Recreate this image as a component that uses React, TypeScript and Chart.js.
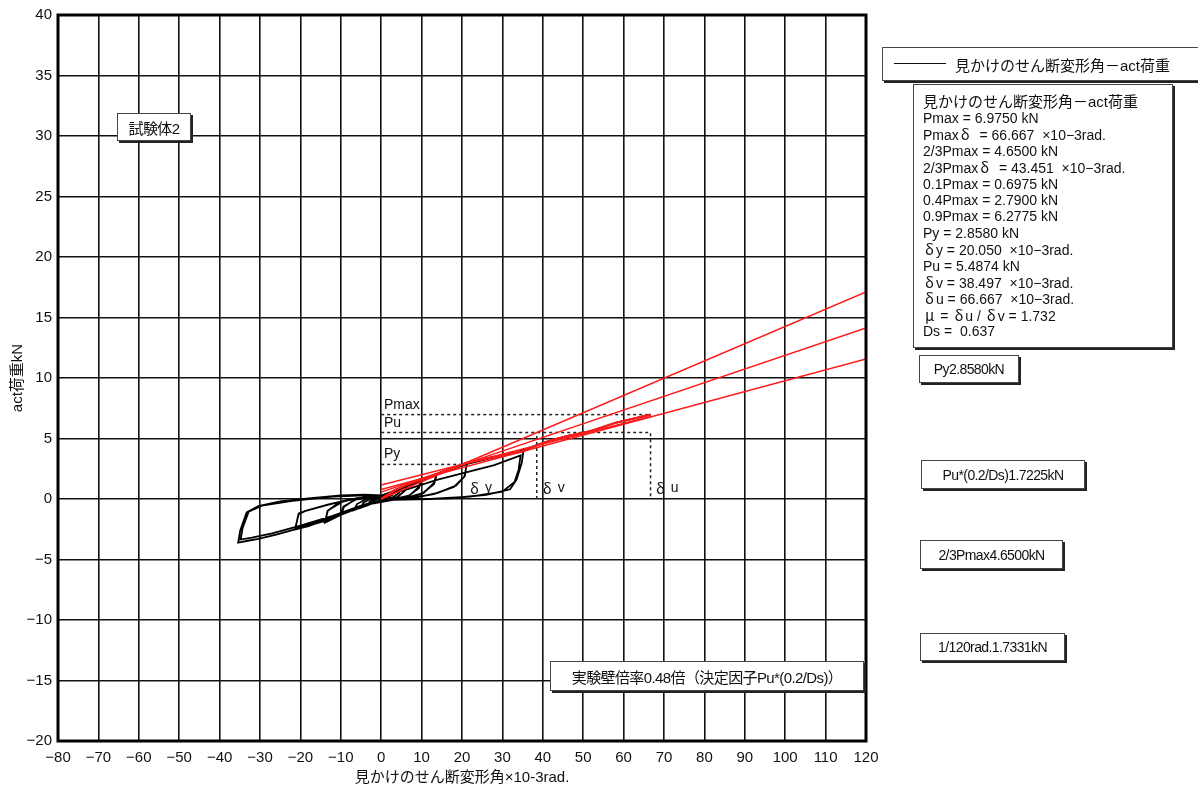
import React, { useEffect, useRef } from "react";
import { Chart, registerables } from "chart.js";

Chart.register(...registerables);

const FONT = '"Liberation Sans", "Noto Sans CJK JP", sans-serif';
const CJK = '"Noto Sans CJK JP", sans-serif';

// axis ranges / ticks
const xRange = [-80, 120];
const yRange = [-20, 40];
const xStep = 10;
const yStep = 5;

// hysteresis cycles (x: 見かけのせん断変形角 ×10-3rad, y: act荷重 kN)
const cycle1 = [[0, 0], [1.0, 0.28], [2.2, 0.5], [1.8, 0.22], [0.9, 0.03], [0, -0.06], [-1.1, -0.2], [-2.2, -0.35], [-1.8, -0.12], [-0.8, 0.04], [0, 0.08]];
const cycle2 = [[1.2, 0.35], [2.3, 0.55], [3.3, 0.72], [2.8, 0.36], [1.6, 0.06], [0, -0.08], [-1.6, -0.27], [-3.3, -0.5], [-2.8, -0.2], [-1.4, 0.04], [0, 0.1]];
const cycle3 = [[1.5, 0.4], [3.4, 0.74], [5.0, 0.97], [4.4, 0.5], [2.8, 0.12], [0.8, -0.04], [-1.5, -0.26], [-3.4, -0.52], [-5.0, -0.72], [-4.4, -0.3], [-2.6, 0.02], [0, 0.12]];
const cycle4 = [[2.0, 0.46], [5.0, 0.95], [6.7, 1.22], [6.0, 0.72], [4.0, 0.16], [1.5, -0.02], [-2.0, -0.3], [-5.0, -0.7], [-6.7, -0.92], [-6.0, -0.42], [-3.5, 0.04], [0, 0.15]];
const cycle5 = [[2.0, 0.48], [6.7, 1.18], [10.0, 1.62], [9.2, 0.95], [7.0, 0.3], [3.5, 0.02], [0, -0.1], [-3.0, -0.38], [-6.7, -0.88], [-10.0, -1.32], [-9.2, -0.65], [-6.5, -0.05], [-2.5, 0.12], [0, 0.15]];
const cycle6 = [[3.0, 0.6], [7.0, 1.15], [10.0, 1.55], [9.3, 0.9], [6.8, 0.25], [3.0, 0.0], [0, -0.1], [-4.0, -0.48], [-7.5, -0.92], [-10.0, -1.25], [-9.3, -0.6], [-6.0, 0.0], [-2.0, 0.15], [0, 0.15]];
const cycle7 = [[3.0, 0.62], [8.0, 1.35], [10.5, 1.68], [13.7, 2.05], [13.0, 1.3], [10.5, 0.5], [6.0, 0.08], [2.0, -0.05], [-2.0, -0.25], [-6.0, -0.75], [-10.3, -1.35], [-13.9, -1.95], [-13.3, -1.0], [-10.5, -0.3], [-6.0, 0.08], [-1.0, 0.2], [0, 0.2]];
const cycle8 = [[4.0, 0.72], [9.0, 1.42], [13.7, 1.98], [13.1, 1.25], [10.0, 0.4], [5.0, 0.02], [0, -0.12], [-5.0, -0.62], [-10.0, -1.25], [-13.9, -1.85], [-13.2, -0.95], [-9.5, -0.2], [-4.0, 0.15], [0, 0.2]];
const cycle9 = [[4.0, 0.75], [10.0, 1.62], [13.7, 2.05], [17.0, 2.5], [21.2, 3.0], [20.7, 1.9], [18.5, 1.1], [14.0, 0.5], [8.0, 0.08], [3.0, -0.05], [-3.0, -0.35], [-9.0, -1.05], [-14.0, -1.75], [-18.0, -2.25], [-21.3, -2.52], [-20.5, -1.26], [-18.9, -1.0], [-14.0, -0.55], [-8.0, -0.05], [-3.0, 0.2], [0, 0.22]];
const cycle10 = [[5.0, 0.85], [12.0, 1.8], [17.0, 2.4], [21.2, 2.9], [20.6, 1.85], [18.0, 1.0], [13.0, 0.4], [7.0, 0.05], [2.0, -0.05], [-4.0, -0.45], [-10.0, -1.15], [-16.0, -1.95], [-21.3, -2.45], [-20.4, -1.2], [-18.5, -0.95], [-13.0, -0.45], [-7.0, 0.0], [-2.0, 0.2], [0, 0.22]];
const cycle11 = [[5.0, 0.85], [12.0, 1.82], [20.5, 2.85], [26.0, 3.35], [31.0, 3.7], [35.2, 3.95], [34.8, 3.0], [33.5, 1.6], [31.9, 0.8], [26.0, 0.35], [17.0, 0.05], [8.0, -0.02], [2.0, -0.05], [-4.0, -0.5], [-9.0, -1.1], [-13.9, -1.8], [-18.0, -2.2], [-22.2, -2.6], [-26.0, -2.95], [-30.4, -3.3], [-33.0, -3.45], [-35.4, -3.6], [-34.9, -2.6], [-33.3, -1.1], [-30.4, -0.58], [-25.0, -0.2], [-18.0, 0.05], [-10.0, 0.3], [-4.0, 0.35], [0, 0.3]];
const cycle12 = [[6.0, 0.75], [14.0, 1.6], [21.0, 2.2], [28.0, 2.8], [34.5, 3.6], [34.0, 2.4], [33.0, 1.4], [30.0, 0.6], [22.0, 0.2], [12.0, 0.0], [3.0, -0.08], [-5.0, -0.55], [-12.0, -1.4], [-20.0, -2.2], [-27.0, -2.85], [-32.0, -3.2], [-34.8, -3.35], [-34.3, -2.4], [-32.8, -1.05], [-29.5, -0.55], [-22.0, -0.15], [-12.0, 0.2], [-4.0, 0.3], [0, 0.28]];
const finalLoading = [[5.0, 0.9], [12.0, 1.85], [20.0, 2.8], [28.0, 3.45], [34.0, 3.9], [36.5, 4.2], [38.5, 4.45], [42.0, 4.85], [46.0, 5.2], [51.7, 5.6], [58.0, 6.3], [66.7, 6.975]];

// evaluation (red) lines
const envelope = [[0, 0], [2.2, 0.5], [3.3, 0.72], [5.0, 0.97], [6.7, 1.22], [10.0, 1.62], [13.7, 2.05], [21.2, 3.0], [35.2, 3.95], [38.5, 4.45], [42.0, 4.85], [46.0, 5.2], [51.7, 5.6], [58.0, 6.3], [66.7, 6.975]];
const lineA = [[0, 0], [120, 17.105]];
const lineB = [[0, 0.57], [120, 14.13]];
const lineC = [[0, 0.79], [120, 11.57]];
const lineD = [[0, 1.15], [66.7, 6.82]];

// characteristic values
const Pmax = 6.975;
const Pu = 5.4874;
const Py = 2.858;
const deltaY = 20.05;
const deltaV = 38.497;
const deltaU = 66.667;

const pmaxLine = [[0, Pmax], [deltaU, Pmax]];
const puLine = [[0, Pu], [deltaU, Pu], [deltaU, 0]];
const pyLine = [[0, Py], [deltaY, Py]];
const dvLine = [[deltaV, 0], [deltaV, Pu]];

const markerTexts = ["Pmax", "Pu", "Py", "δ y", "δ v", "δ u"];
const markerX = [0.7, 0.7, 0.7, 22, 40, 68];
const markerY = [7.74, 6.26, 3.7, 0.9, 0.9, 0.9];

const statLines = [
  "Pmax = 6.9750 kN",
  "Pmaxδ  = 66.667  ×10−3rad.",
  "2/3Pmax = 4.6500 kN",
  "2/3Pmaxδ  = 43.451  ×10−3rad.",
  "0.1Pmax = 0.6975 kN",
  "0.4Pmax = 2.7900 kN",
  "0.9Pmax = 6.2775 kN",
  "Py = 2.8580 kN",
  "δy = 20.050  ×10−3rad.",
  "Pu = 5.4874 kN",
  "δv = 38.497  ×10−3rad.",
  "δu = 66.667  ×10−3rad.",
  "μ = δu / δv = 1.732",
  "Ds =  0.637",
];

const seriesName = "見かけのせん断変形角－act荷重";

const toPts = (arr: number[][]) => arr.map(([x, y]) => ({ x, y }));

const hysteresis = [
  ...cycle1, ...cycle2, ...cycle3, ...cycle4, ...cycle5, ...cycle6,
  ...cycle7, ...cycle8, ...cycle9, ...cycle10, ...cycle11, ...cycle12, ...finalLoading,
];

const fmt = (v: number) => (v < 0 ? "−" + Math.abs(v) : String(v));

const overlayPlugin = {
  id: "overlay",
  afterDatasetsDraw(chart: any) {
    const { ctx, chartArea, scales } = chart;
    const sx = scales.x;
    const sy = scales.y;
    ctx.save();
    ctx.fillStyle = "#111";
    ctx.textBaseline = "middle";
    ctx.textAlign = "left";
    markerTexts.forEach((t, i) => {
      const px = sx.getPixelForValue(markerX[i]);
      const py = sy.getPixelForValue(markerY[i]);
      if (t.startsWith("δ")) {
        ctx.font = "15px " + CJK;
        ctx.fillText("δ", px, py);
        ctx.font = "14px " + FONT;
        ctx.fillText(t.slice(1), px + 11, py);
      } else {
        ctx.font = "14px " + FONT;
        ctx.fillText(t, px, py);
      }
    });
    ctx.lineWidth = 3;
    ctx.strokeStyle = "#000";
    ctx.strokeRect(chartArea.left, chartArea.top, chartArea.right - chartArea.left, chartArea.bottom - chartArea.top);
    ctx.restore();
  },
};

const boxStyle: React.CSSProperties = {
  position: "absolute",
  background: "#fff",
  border: "1px solid #444",
  boxShadow: "2px 2px 0 #222",
  fontFamily: FONT,
  color: "#111",
  boxSizing: "border-box",
  whiteSpace: "nowrap",
};

function Greek({ text }: { text: string }) {
  const parts = text.split(/([δμ])/);
  return (
    <>
      {parts.map((p, i) =>
        p === "δ" || p === "μ" ? (
          <span key={i} style={{ fontFamily: CJK, fontSize: 15, padding: "0 2px" }}>
            {p}
          </span>
        ) : (
          <span key={i}>{p}</span>
        )
      )}
    </>
  );
}

function Box({ left, top, width, height, text, size = 14 }: any) {
  return (
    <div
      style={{
        ...boxStyle,
        left,
        top,
        width,
        height,
        fontSize: size,
        letterSpacing: -0.6,
        display: "flex",
        alignItems: "center",
        justifyContent: "center",
      }}
    >
      {text}
    </div>
  );
}

export default function App() {
  const ref = useRef<HTMLCanvasElement>(null);

  useEffect(() => {
    if (!ref.current) return;
    const red = "#ff1a1a";
    const dotted = { borderColor: "#222", borderWidth: 1.5, borderDash: [3, 3], pointRadius: 0, order: 2 };
    const redLine = { borderColor: red, borderWidth: 1.5, pointRadius: 0, order: 1 };
    const chart = new Chart(ref.current, {
      type: "line",
      data: {
        datasets: [
          { label: "envelope", data: toPts(envelope), ...redLine, borderWidth: 2.2 },
          { label: "A", data: toPts(lineA), ...redLine },
          { label: "B", data: toPts(lineB), ...redLine },
          { label: "C", data: toPts(lineC), ...redLine },
          { label: "D", data: toPts(lineD), ...redLine },
          { label: "Pmax", data: toPts(pmaxLine), ...dotted },
          { label: "Pu", data: toPts(puLine), ...dotted },
          { label: "Py", data: toPts(pyLine), ...dotted },
          { label: "dv", data: toPts(dvLine), ...dotted },
          {
            label: seriesName,
            data: toPts(hysteresis),
            borderColor: "#000",
            borderWidth: 1.8,
            pointRadius: 0,
            order: 3,
          },
        ] as any,
      },
      options: {
        animation: false,
        responsive: false,
        maintainAspectRatio: false,
        parsing: false as any,
        layout: { padding: { left: 0, top: 12, right: 332, bottom: 0 } },
        plugins: { legend: { display: false }, tooltip: { enabled: false } },
        elements: { line: { tension: 0 } },
        scales: {
          x: {
            type: "linear",
            min: xRange[0],
            max: xRange[1],
            ticks: {
              stepSize: xStep,
              color: "#111",
              font: { size: 15, family: FONT },
              padding: 8,
              maxRotation: 0,
              callback: (v: any) => fmt(Number(v)),
            },
            grid: { color: "#111", lineWidth: 1.6, drawTicks: false },
            border: { display: false },
            title: {
              display: true,
              text: "見かけのせん断変形角×10-3rad.",
              color: "#111",
              font: { size: 15, family: FONT },
              padding: { top: 0, bottom: 5 },
            },
            afterFit: (s: any) => {
              s.height = 51;
            },
          },
          y: {
            type: "linear",
            min: yRange[0],
            max: yRange[1],
            ticks: {
              stepSize: yStep,
              color: "#111",
              font: { size: 15, family: FONT },
              padding: 6,
              callback: (v: any) => fmt(Number(v)),
            },
            grid: { color: "#111", lineWidth: 1.6, drawTicks: false },
            border: { display: false },
            title: {
              display: true,
              text: "act荷重kN",
              color: "#111",
              font: { size: 15, family: FONT },
              padding: { top: 9, bottom: 0 },
            },
            afterFit: (s: any) => {
              s.width = 58;
            },
          },
        },
      },
      plugins: [overlayPlugin],
    });
    return () => chart.destroy();
  }, []);

  return (
    <div style={{ position: "absolute", left: 0, top: 0, width: 1198, height: 792, overflow: "hidden", background: "#fff" }}>
      <canvas ref={ref} width={1198} height={792} style={{ position: "absolute", left: 0, top: 0, width: 1198, height: 792 }} />

      {/* legend */}
      <div style={{ ...boxStyle, left: 882, top: 47, width: 330, height: 34 }}>
        <div style={{ position: "absolute", left: 11, top: 15, width: 52, height: 0, borderTop: "1.5px solid #111" }} />
        <div style={{ position: "absolute", left: 72, top: 6, fontSize: 15 }}>{seriesName}</div>
      </div>

      {/* statistics */}
      <div style={{ ...boxStyle, left: 913, top: 84, width: 260, height: 264, padding: "8px 0 0 9px" }}>
        <div style={{ fontSize: 15, lineHeight: "17px" }}>{seriesName}</div>
        {statLines.map((t, i) => (
          <div key={i} style={{ fontSize: 14, lineHeight: "16.4px", height: 16.4, whiteSpace: "pre" }}>
            <Greek text={t} />
          </div>
        ))}
      </div>

      <Box left={919} top={355} width={100} height={28} text="Py2.8580kN" />
      <Box left={921} top={460} width={164} height={29} text="Pu*(0.2/Ds)1.7225kN" />
      <Box left={920} top={540} width={143} height={29} text="2/3Pmax4.6500kN" />
      <Box left={920} top={633} width={145} height={28} text="1/120rad.1.7331kN" />
      <Box left={117} top={113} width={74} height={28} text="試験体2" size={15} />
      <Box left={550} top={661} width={314} height={30} text="実験壁倍率0.48倍（決定因子Pu*(0.2/Ds)）" size={15} />
    </div>
  );
}
